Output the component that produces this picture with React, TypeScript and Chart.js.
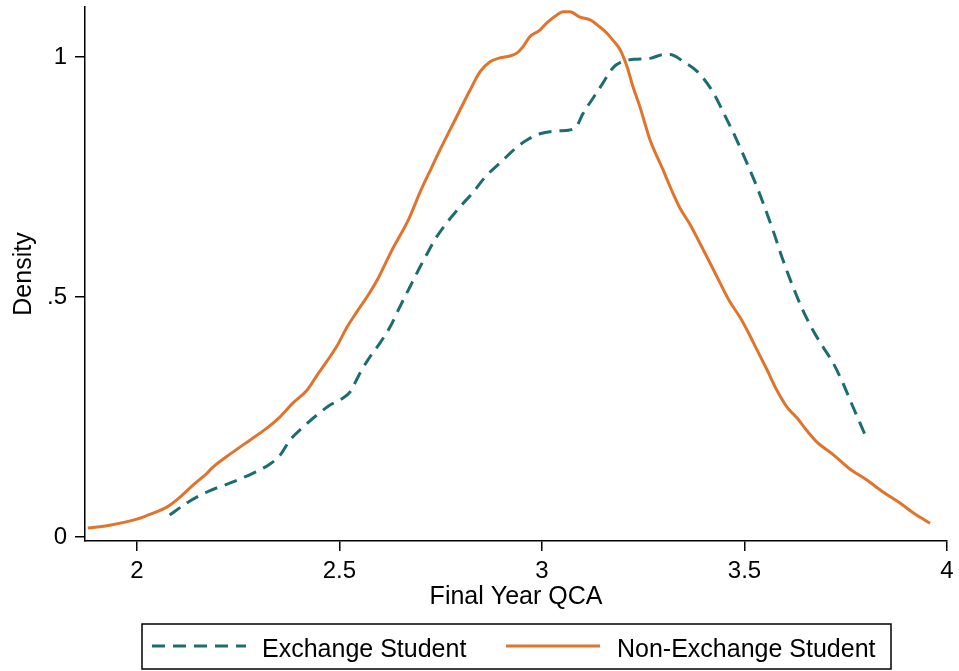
import React, { useEffect, useRef } from "react";
import { Chart, registerables } from "chart.js";

Chart.register(...registerables);

// ---- Data ----
const exchangeX = [2.081, 2.123, 2.173, 2.237, 2.286, 2.328, 2.353, 2.378, 2.41, 2.444, 2.477, 2.509, 2.526, 2.551, 2.575, 2.6, 2.625, 2.649, 2.674, 2.699, 2.719, 2.736, 2.77, 2.8, 2.83, 2.86, 2.9, 2.938, 2.965, 2.995, 3.037, 3.069, 3.086, 3.1, 3.126, 3.15, 3.175, 3.197, 3.225, 3.267, 3.3, 3.316, 3.35, 3.383, 3.42, 3.457, 3.481, 3.506, 3.531, 3.546, 3.57, 3.595, 3.62, 3.644, 3.669, 3.694, 3.719, 3.743, 3.768, 3.785, 3.798];
const exchangeY = [0.046, 0.071, 0.094, 0.115, 0.133, 0.152, 0.17, 0.202, 0.229, 0.254, 0.275, 0.29, 0.302, 0.342, 0.375, 0.404, 0.4375, 0.479, 0.521, 0.5625, 0.594, 0.62, 0.66, 0.69, 0.718, 0.75, 0.782, 0.812, 0.828, 0.84, 0.846, 0.848, 0.856, 0.88, 0.914, 0.945, 0.977, 0.99, 0.995, 0.997, 1.005, 1.005, 0.99, 0.97, 0.93, 0.869, 0.827, 0.779, 0.729, 0.696, 0.64, 0.577, 0.521, 0.473, 0.431, 0.396, 0.3625, 0.321, 0.271, 0.238, 0.2125];

const nonExchangeX = [1.879, 1.933, 2.0, 2.04, 2.074, 2.106, 2.138, 2.173, 2.188, 2.237, 2.279, 2.321, 2.353, 2.385, 2.42, 2.444, 2.469, 2.494, 2.519, 2.543, 2.568, 2.593, 2.612, 2.63, 2.67, 2.7, 2.725, 2.748, 2.773, 2.798, 2.822, 2.847, 2.872, 2.896, 2.921, 2.938, 2.953, 2.97, 2.995, 3.012, 3.037, 3.052, 3.069, 3.094, 3.119, 3.143, 3.16, 3.175, 3.193, 3.21, 3.225, 3.242, 3.267, 3.299, 3.323, 3.341, 3.365, 3.39, 3.415, 3.44, 3.464, 3.489, 3.506, 3.531, 3.556, 3.58, 3.605, 3.63, 3.654, 3.679, 3.719, 3.76, 3.802, 3.842, 3.884, 3.921, 3.958];
const nonExchangeY = [0.019, 0.025, 0.0375, 0.05, 0.0625, 0.083, 0.108, 0.133, 0.146, 0.177, 0.202, 0.227, 0.25, 0.279, 0.306, 0.336, 0.366, 0.398, 0.4375, 0.469, 0.5, 0.535, 0.567, 0.598, 0.66, 0.72, 0.765, 0.806, 0.848, 0.89, 0.93, 0.969, 0.99, 0.998, 1.002, 1.008, 1.021, 1.042, 1.056, 1.071, 1.0875, 1.094, 1.094, 1.083, 1.077, 1.0625, 1.05, 1.035, 1.015, 0.98, 0.9375, 0.896, 0.827, 0.765, 0.717, 0.685, 0.652, 0.612, 0.571, 0.529, 0.49, 0.458, 0.432, 0.39, 0.348, 0.306, 0.271, 0.248, 0.222, 0.198, 0.172, 0.142, 0.119, 0.094, 0.071, 0.048, 0.029];

const seriesLabels = ["Exchange Student", "Non-Exchange Student"];
const xTicks = [2, 2.5, 3, 3.5, 4];
const xTickLabels = ["2", "2.5", "3", "3.5", "4"];
const yTicks = [0, 0.5, 1];
const yTickLabels = ["0", ".5", "1"];
const xTitle = "Final Year QCA";
const yTitle = "Density";

const FONT = "Liberation Sans, Arial, Helvetica, sans-serif";
const TEAL = "#1c6e6e";
const ORANGE = "#e0742c";

const zip = (xs: number[], ys: number[]) => xs.map((x, i) => ({ x, y: ys[i] }));

const decorPlugin = {
  id: "decor",
  afterDraw(chart: any) {
    const { ctx, chartArea } = chart;
    ctx.save();
    ctx.fillStyle = "#000";
    ctx.font = `25px ${FONT}`;
    // x title
    ctx.textAlign = "center";
    ctx.textBaseline = "alphabetic";
    ctx.fillText(xTitle, (chartArea.left + chartArea.right) / 2, 604);
    // y title
    ctx.save();
    ctx.translate(31, (chartArea.top + chartArea.bottom) / 2);
    ctx.rotate(-Math.PI / 2);
    ctx.fillText(yTitle, 0, 0);
    ctx.restore();
    // legend box
    ctx.strokeStyle = "#000";
    ctx.lineWidth = 1.5;
    ctx.strokeRect(142, 624, 749, 45);
    const items = [
      { x0: 152, x1: 246, tx: 262 },
      { x0: 506, x1: 600, tx: 617 },
    ];
    chart.data.datasets.forEach((ds: any, i: number) => {
      const it = items[i];
      ctx.save();
      ctx.strokeStyle = ds.borderColor;
      ctx.lineWidth = ds.borderWidth;
      ctx.setLineDash(ds.borderDash || []);
      ctx.beginPath();
      ctx.moveTo(it.x0, 646);
      ctx.lineTo(it.x1, 646);
      ctx.stroke();
      ctx.restore();
      ctx.textAlign = "left";
      ctx.fillStyle = "#000";
      ctx.fillText(ds.label, it.tx, 657);
    });
    ctx.restore();
  },
};

export default function App() {
  const ref = useRef<HTMLCanvasElement | null>(null);
  useEffect(() => {
    if (!ref.current) return;
    const chart = new Chart(ref.current, {
      type: "line",
      data: {
        datasets: [
          {
            label: seriesLabels[0],
            data: zip(exchangeX, exchangeY),
            borderColor: TEAL,
            borderWidth: 3,
            borderDash: [13, 8],
            pointRadius: 0,
            fill: false,
            cubicInterpolationMode: "monotone",
          },
          {
            label: seriesLabels[1],
            data: zip(nonExchangeX, nonExchangeY),
            borderColor: ORANGE,
            borderWidth: 3,
            pointRadius: 0,
            fill: false,
            cubicInterpolationMode: "monotone",
          },
        ],
      },
      options: {
        animation: false,
        responsive: false,
        layout: { padding: { left: 0, top: 7, right: 12, bottom: 0 } },
        plugins: {
          legend: { display: false },
          tooltip: { enabled: false },
        },
        scales: {
          x: {
            type: "linear",
            min: 1.872,
            max: 4.0,
            afterBuildTicks: (s: any) => {
              s.ticks = xTicks.map((v) => ({ value: v }));
            },
            afterFit: (s: any) => {
              s.height = 130;
              s.paddingLeft = 0;
              s.paddingRight = 0;
            },
            ticks: {
              autoSkip: false,
              maxRotation: 0,
              padding: 6,
              color: "#000",
              font: { family: FONT, size: 24 },
              callback: (v: any) => {
                const i = xTicks.indexOf(Number(v));
                return i >= 0 ? xTickLabels[i] : "";
              },
            },
            grid: {
              display: true,
              drawOnChartArea: false,
              drawTicks: true,
              tickLength: 10,
              color: "#000",
              lineWidth: 1.5,
            },
            border: { display: true, color: "#000", width: 1.5 },
          },
          y: {
            type: "linear",
            min: -0.008,
            max: 1.104,
            afterBuildTicks: (s: any) => {
              s.ticks = yTicks.map((v) => ({ value: v }));
            },
            afterFit: (s: any) => {
              s.width = 85;
              s.paddingTop = 0;
              s.paddingBottom = 0;
            },
            ticks: {
              autoSkip: false,
              padding: 8,
              color: "#000",
              font: { family: FONT, size: 24 },
              callback: (v: any) => {
                const i = yTicks.indexOf(Number(v));
                return i >= 0 ? yTickLabels[i] : "";
              },
            },
            grid: {
              display: true,
              drawOnChartArea: false,
              drawTicks: true,
              tickLength: 10,
              color: "#000",
              lineWidth: 1.5,
            },
            border: { display: true, color: "#000", width: 1.5 },
          },
        },
      },
      plugins: [decorPlugin],
    } as any);
    return () => chart.destroy();
  }, []);
  return (
    <div style={{ position: "absolute", left: 0, top: 0, width: 959, height: 671, background: "#fff" }}>
      <canvas ref={ref} width={959} height={671} style={{ display: "block" }} />
    </div>
  );
}
